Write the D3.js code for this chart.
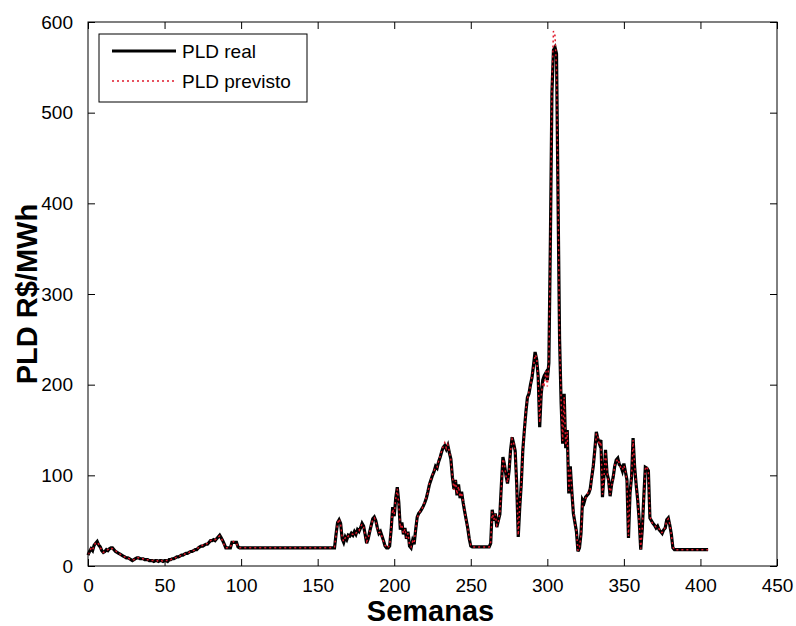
<!DOCTYPE html>
<html>
<head>
<meta charset="utf-8">
<script src="https://cdn.jsdelivr.net/npm/d3@7"></script>
<style>
  html, body { margin: 0; padding: 0; background: #fff; }
  svg { display: block; }
  text { font-family: Arial, "Liberation Sans", Helvetica, sans-serif; fill: #000; }
</style>
</head>
<body>
<svg id="chart" width="796" height="626"></svg>
<script>
// ---- Data (weekly PLD, R$/MWh) ----
const pldReal = [
  12,16,19,17,23,25,27,23,21,17,
  15,16,18,17,19,20,20,18,16,15,
  14,13,12,11,10,9,9,8,7,6,
  7,8,9,9,8,8,8,7,7,7,
  6,6,6,5,6,6,5,6,6,5,
  6,6,5,7,7,8,8,9,10,10,
  11,12,12,13,14,14,15,16,16,17,
  18,18,20,21,22,22,23,24,24,26,
  28,28,29,28,30,32,34,31,28,24,
  20,20,20,20,26,26,26,26,21,20,
  20,20,20,20,20,20,20,20,20,20,
  20,20,20,20,20,20,20,20,20,20,
  20,20,20,20,20,20,20,20,20,20,
  20,20,20,20,20,20,20,20,20,20,
  20,20,20,20,20,20,20,20,20,20,
  20,20,20,20,20,20,20,20,20,20,
  20,20,35,48,51,47,30,26,32,29,
  34,33,36,34,38,35,40,38,42,47,
  44,35,25,30,38,45,52,54,50,42,
  36,38,33,28,22,20,20,22,40,65,
  55,75,87,70,40,48,35,42,30,38,
  22,20,28,24,40,54,58,60,63,66,
  70,75,82,90,95,100,104,110,108,115,
  120,126,131,133,129,133,125,118,98,85,
  95,78,90,75,82,70,60,51,42,30,
  22,21,21,21,21,21,21,21,21,21,
  21,21,21,25,62,50,58,43,50,57,
  90,120,112,100,91,105,128,142,135,127,
  90,32,65,91,128,150,170,186,190,200,
  208,222,236,228,210,153,190,205,210,213,
  205,224,360,522,569,572,565,404,250,180,
  135,190,130,150,80,110,82,58,48,38,
  16,20,36,73,70,76,78,80,85,98,
  110,128,148,140,135,139,76,100,128,102,
  95,77,90,98,110,117,119,112,110,105,
  113,104,95,31,80,98,141,110,90,73,
  50,18,40,76,109,108,105,53,50,47,
  45,42,44,40,38,36,40,42,51,53,
  45,35,20,18,18,18,18,18,18,18,
  18,18,18,18,18,18,18,18,18,18,
  18,18,18,18,18,18
];

const pldPrevisto = [
  13,15,20,18,22,26,26,24,20,18,
  15,16,17,18,19,20,19,18,17,15,
  14,13,12,11,10,10,9,8,7,7,
  7,8,9,9,8,8,8,7,7,7,
  6,6,6,6,6,6,5,6,6,5,
  6,6,6,7,7,8,8,9,10,11,
  11,12,13,13,14,15,15,16,17,17,
  18,19,20,21,22,23,23,24,25,26,
  28,29,29,29,30,32,33,31,27,23,
  20,20,20,21,25,27,26,25,21,20,
  20,20,20,20,20,20,20,20,20,20,
  20,20,20,20,20,20,20,20,20,20,
  20,20,20,20,20,20,20,20,20,20,
  20,20,20,20,20,20,20,20,20,20,
  20,20,20,20,20,20,20,20,20,20,
  20,20,20,20,20,20,20,20,20,20,
  20,21,34,47,52,46,31,27,31,30,
  33,34,35,35,37,36,39,39,43,46,
  43,34,27,31,37,46,51,53,49,41,
  37,37,32,27,23,20,21,23,42,63,
  57,74,85,68,42,46,36,41,31,36,
  23,21,27,25,41,53,57,61,62,67,
  71,76,81,91,96,101,105,109,109,116,
  121,127,132,136,130,134,126,117,99,84,
  94,79,88,76,81,71,61,50,43,31,
  23,21,21,21,21,21,21,21,21,21,
  21,21,21,26,60,51,57,45,49,58,
  88,118,113,99,92,104,126,140,136,125,
  88,34,67,90,126,148,172,184,192,198,
  210,220,233,230,207,158,188,203,200,215,
  198,226,355,530,590,585,548,410,245,185,
  138,186,133,148,83,108,84,60,47,39,
  17,21,35,71,72,75,79,82,84,97,
  111,126,146,142,133,137,79,98,126,104,
  93,79,89,97,111,115,118,113,108,106,
  111,105,93,33,78,99,139,112,88,75,
  48,19,42,74,107,110,103,55,49,46,
  45,43,43,41,37,37,39,43,50,52,
  46,34,21,18,18,18,18,18,18,18,
  18,18,18,18,18,18,18,18,18,18,
  18,18,18,18,18,18
];

const xTicks = [0, 50, 100, 150, 200, 250, 300, 350, 400, 450];
const yTicks = [0, 100, 200, 300, 400, 500, 600];
const seriesNames = ["PLD real", "PLD previsto"];
const xLabel = "Semanas";
const yLabel = "PLD R$/MWh";

// ---- Layout ----
const svg = d3.select("#chart");
const L = 88, R = 777, T = 22, B = 566;

const x = d3.scaleLinear().domain([0, 450]).range([L, R]);
const y = d3.scaleLinear().domain([0, 600]).range([B, T]);

const line = d3.line()
  .x((d, i) => x(i))
  .y(d => y(d));

const realStyle = { stroke: "#000", width: 3.2, dash: null };
const prevStyle = { stroke: "#e0192b", width: 1.5, dash: "2,3" };

// data
const plot = svg.append("g");
plot.append("path")
  .datum(pldReal)
  .attr("d", line)
  .attr("fill", "none")
  .attr("stroke", realStyle.stroke)
  .attr("stroke-width", realStyle.width)
  .attr("stroke-linejoin", "miter");

plot.append("path")
  .datum(pldPrevisto)
  .attr("d", line)
  .attr("fill", "none")
  .attr("stroke", prevStyle.stroke)
  .attr("stroke-width", prevStyle.width)
  .attr("stroke-dasharray", prevStyle.dash);

// axes box
svg.append("rect")
  .attr("x", L).attr("y", T)
  .attr("width", R - L).attr("height", B - T)
  .attr("fill", "none").attr("stroke", "#000").attr("stroke-width", 1);

const tickLen = 7;
const fontTick = "19px";

// bottom axis (ticks inward)
const xAxisB = d3.axisBottom(x).tickValues(xTicks).tickSizeInner(-tickLen).tickSizeOuter(0).tickPadding(tickLen + 6);
const gxb = svg.append("g").attr("transform", `translate(0,${B})`).call(xAxisB);
gxb.select(".domain").remove();
gxb.selectAll("text").style("font-size", fontTick).style("font-family", "Arial, 'Liberation Sans', sans-serif").attr("fill", "#000");
gxb.selectAll("line").attr("stroke", "#000");

// top axis ticks (inward, no labels)
const xAxisT = d3.axisTop(x).tickValues(xTicks).tickSizeInner(-tickLen).tickSizeOuter(0).tickFormat("");
const gxt = svg.append("g").attr("transform", `translate(0,${T})`).call(xAxisT);
gxt.select(".domain").remove();
gxt.selectAll("line").attr("stroke", "#000");

// left axis
const yAxisL = d3.axisLeft(y).tickValues(yTicks).tickSizeInner(-tickLen).tickSizeOuter(0).tickPadding(tickLen + 8);
const gyl = svg.append("g").attr("transform", `translate(${L},0)`).call(yAxisL);
gyl.select(".domain").remove();
gyl.selectAll("text").style("font-size", fontTick).style("font-family", "Arial, 'Liberation Sans', sans-serif").attr("fill", "#000");
gyl.selectAll("line").attr("stroke", "#000");

// right axis ticks
const yAxisR = d3.axisRight(y).tickValues(yTicks).tickSizeInner(-tickLen).tickSizeOuter(0).tickFormat("");
const gyr = svg.append("g").attr("transform", `translate(${R},0)`).call(yAxisR);
gyr.select(".domain").remove();
gyr.selectAll("line").attr("stroke", "#000");

// axis labels
svg.append("text")
  .attr("x", (L + R) / 2 - 2).attr("y", 621)
  .attr("text-anchor", "middle")
  .style("font-size", "29px").style("font-weight", "bold")
  .text(xLabel);

svg.append("text")
  .attr("transform", `translate(37,${(T + B) / 2}) rotate(-90)`)
  .attr("text-anchor", "middle")
  .style("font-size", "29px").style("font-weight", "bold")
  .text(yLabel);

// legend
const lg = svg.append("g");
lg.append("rect")
  .attr("x", 99).attr("y", 34).attr("width", 208).attr("height", 68)
  .attr("fill", "#fff").attr("stroke", "#000").attr("stroke-width", 1);
const legendRows = [
  Object.assign({ name: seriesNames[0], yy: 51 }, realStyle),
  Object.assign({ name: seriesNames[1], yy: 81 }, prevStyle)
];
legendRows.forEach(r => {
  const ln = lg.append("line")
    .attr("x1", 112).attr("x2", 176).attr("y1", r.yy).attr("y2", r.yy)
    .attr("stroke", r.stroke).attr("stroke-width", r.width);
  if (r.dash) ln.attr("stroke-dasharray", r.dash);
  lg.append("text")
    .attr("x", 182).attr("y", r.yy + 7)
    .style("font-size", "19px")
    .text(r.name);
});
</script>
</body>
</html>
